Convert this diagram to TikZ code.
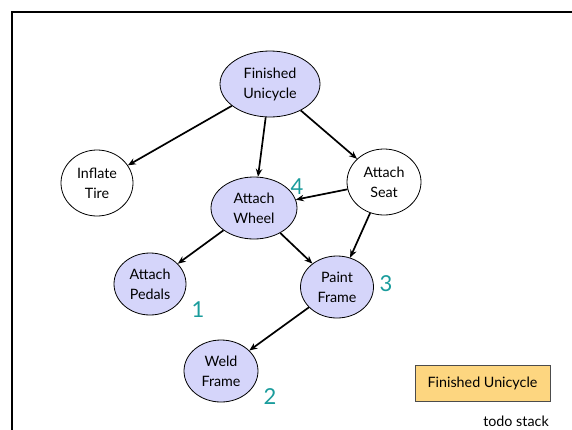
\documentclass[tikz,border=0pt]{standalone}
\usepackage{fontspec}
\setmainfont{Lato}
\usetikzlibrary{shapes.geometric,arrows.meta}
\definecolor{lav}{HTML}{D5D5FA}
\definecolor{todo}{HTML}{FDD680}
\definecolor{teal2}{HTML}{1A9C9C}
\tikzset{
  task/.style={ellipse,draw=black,line width=0.8pt,inner sep=0pt,align=center,font=\fontsize{14.3}{20}\selectfont},
  done/.style={task,fill=lav},
  open/.style={task,fill=white},
  dep/.style={-{Stealth[length=8pt,width=6.5pt]},line width=1.7pt},
  num/.style={text=teal2,font=\fontsize{22}{22}\selectfont}
}
\begin{document}
\begin{tikzpicture}[x=1pt,y=-1pt]
\useasboundingbox (0,0) rectangle (572,429);
% outer frame, open to the right and bottom
\draw[line width=1.8pt] (12,440) -- (12,12) -- (580,12);
% task nodes
\node[done,minimum width=100pt,minimum height=66pt] (fu) at (270,84) {Finished\\Unicycle};
\node[open,minimum width=72pt,minimum height=66pt] (it) at (97,183) {Inflate\\Tire};
\node[done,minimum width=86pt,minimum height=62pt] (aw) at (254,208) {Attach\\Wheel};
\node[open,minimum width=74pt,minimum height=66pt] (as) at (384,182) {Attach\\Seat};
\node[done,minimum width=72pt,minimum height=62pt] (ap) at (150,284) {Attach\\Pedals};
\node[done,minimum width=73pt,minimum height=62pt] (pf) at (337,287) {Paint\\Frame};
\node[done,minimum width=74pt,minimum height=62pt] (wf) at (221,371) {Weld\\Frame};
% dependencies
\draw[dep] (fu) -- (it);
\draw[dep] (fu) -- (aw);
\draw[dep] (fu) -- (as);
\draw[dep] (as) -- (aw);
\draw[dep] (aw) -- (ap);
\draw[dep] (aw) -- (pf);
\draw[dep] (as) -- (pf);
\draw[dep] (pf) -- (wf);
% visit order
\node[num] (n4) at (297,187) {4};
\node[num] (n3) at (386,284) {3};
\node[num] (n1) at (198,310) {1};
\node[num] (n2) at (270,397) {2};
% todo stack
\node[draw=black!70,fill=todo,line width=0.6pt,minimum width=135pt,minimum height=36pt,font=\fontsize{14.3}{16}\selectfont] (stack) at (482.5,383) {Finished Unicycle};
\node[font=\fontsize{14.3}{16}\selectfont] (lbl) at (516,421) {todo stack};
\end{tikzpicture}
\end{document}
